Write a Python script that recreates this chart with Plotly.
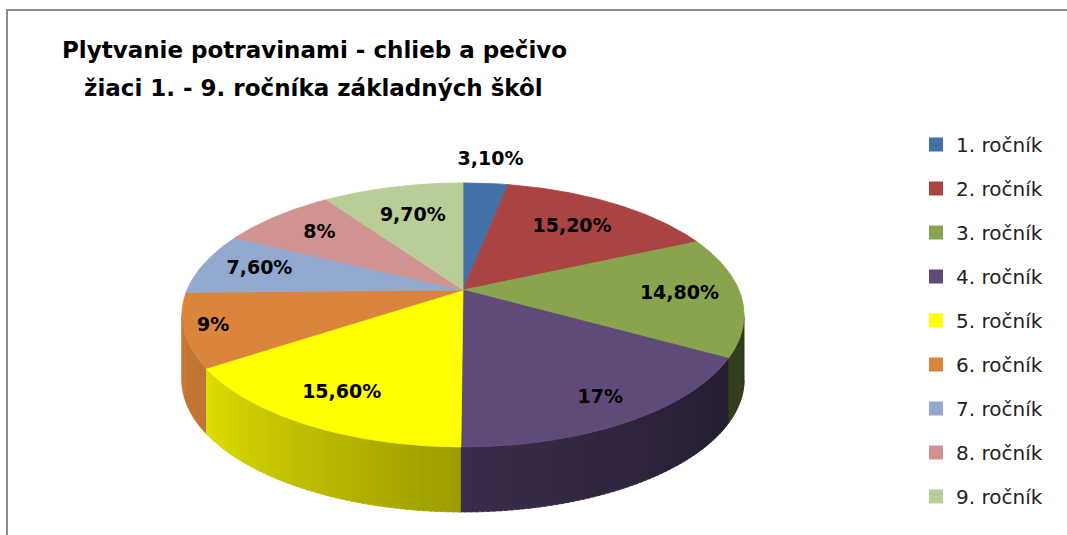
import numpy as np
import plotly.graph_objects as go

# ---------------- data ----------------
categories = ["1. ročník", "2. ročník", "3. ročník", "4. ročník", "5. ročník",
              "6. ročník", "7. ročník", "8. ročník", "9. ročník"]
values = [3.1, 15.2, 14.8, 17.0, 15.6, 9.0, 7.6, 8.0, 9.7]
value_labels = ["3,10%", "15,20%", "14,80%", "17%", "15,60%", "9%", "7,60%", "8%", "9,70%"]
title_lines = ["Plytvanie potravinami - chlieb a pečivo",
               "žiaci 1. - 9. ročníka základných škôl"]

# ---------------- style ----------------
top_colors = ["#4270A8", "#A94442", "#88A44D", "#5F4A79", "#FFFF00",
              "#DB843D", "#93A9D0", "#D19392", "#B9CD96"]
label_radius = [1.27, 0.70, 0.78, 0.85, 0.80, 0.90, 0.78, 0.75, 0.68]

W, H = 1067, 535
CX, CY = 463.0, 290.0      # pie centre (screen units)
A, B, P = 276.0, 127.3, 0.189  # perspective projection of the disc
DEPTH = 65.0

def proj(theta_deg, r=1.0):
    t = np.radians(theta_deg)
    x = r * np.sin(t)
    z = r * np.cos(t)
    d = 1 + P * z
    return CX + A * x / d, CY - B * z / d

def hex_to_rgb(h):
    h = h.lstrip("#")
    return tuple(int(h[i:i + 2], 16) for i in (0, 2, 4))

def shade(hexc, f):
    r, g, b = hex_to_rgb(hexc)
    return "rgb(%d,%d,%d)" % (min(255, r * f), min(255, g * f), min(255, b * f))

def side_factor(theta):
    return float(np.interp(theta, [100, 119, 180, 236, 260], [0.33, 0.39, 0.61, 0.87, 0.92]))

total = float(sum(values))
bounds = np.concatenate([[0], np.cumsum(values)]) / total * 360.0

# silhouette (visible front side) range
theta_l = np.degrees(np.arccos(-P))
theta_r = 360 - theta_l

fig = go.Figure()

# ---- side walls (front half), drawn as thin shaded strips ----
for i, cat in enumerate(categories):
    a0, a1 = max(bounds[i], theta_l), min(bounds[i + 1], theta_r)
    if a1 <= a0:
        continue
    n = max(1, int(np.ceil((a1 - a0) / 1.0)))
    edges = np.linspace(a0, a1, n + 1)
    for k in range(n):
        s0 = edges[k]
        s1 = min(edges[k + 1] + 0.5, theta_r) if k < n - 1 or i < len(categories) - 1 else edges[k + 1]
        ts = np.linspace(s0, s1, 4)
        xt, yt = proj(ts)
        xs = np.concatenate([xt, xt[::-1]])
        ys = np.concatenate([yt, (yt + DEPTH)[::-1]])
        col = shade(top_colors[i], side_factor((s0 + s1) / 2))
        fig.add_trace(go.Scatter(
            x=xs, y=ys, mode="lines", fill="toself", fillcolor=col,
            line=dict(color=col, width=0.6), hoverinfo="skip", showlegend=False))

# ---- top faces ----
for i, cat in enumerate(categories):
    ts = np.linspace(bounds[i], bounds[i + 1], max(3, int((bounds[i + 1] - bounds[i]) * 2)))
    xr, yr = proj(ts)
    xs = np.concatenate([[CX], xr, [CX]])
    ys = np.concatenate([[CY], yr, [CY]])
    fig.add_trace(go.Scatter(
        x=xs, y=ys, mode="lines", fill="toself", fillcolor=top_colors[i],
        line=dict(color=top_colors[i], width=0.8),
        name=cat, hoveron="fills", text=f"{cat}: {value_labels[i]}", hoverinfo="text",
        showlegend=False))

# ---- data labels ----
mids = (bounds[:-1] + bounds[1:]) / 2
lx, ly = [], []
for i in range(len(values)):
    x, y = proj(mids[i], label_radius[i])
    lx.append(x)
    ly.append(y)
fig.add_trace(go.Scatter(
    x=lx, y=ly, mode="text", text=value_labels,
    textfont=dict(family="DejaVu Sans", size=19, color="black", weight="bold"),
    hoverinfo="skip", showlegend=False))

# ---- legend entries ----
for i, cat in enumerate(categories):
    fig.add_trace(go.Scatter(
        x=[None], y=[None], mode="markers", name=cat, legendgroup=cat,
        marker=dict(symbol="square", size=14, color=top_colors[i]),
        showlegend=True))

fig.add_annotation(x=314, y=50, xref="x", yref="y", text=title_lines[0], showarrow=False,
                   font=dict(family="DejaVu Sans", size=23, color="black", weight="bold"))
fig.add_annotation(x=313, y=88, xref="x", yref="y", text=title_lines[1], showarrow=False,
                   font=dict(family="DejaVu Sans", size=23, color="black", weight="bold"))

fig.add_shape(type="rect", xref="x", yref="y", x0=7, y0=10, x1=W + 20, y1=H + 20,
              line=dict(color="#8C8C8C", width=2), fillcolor="rgba(0,0,0,0)", layer="above")

fig.update_layout(
    width=W, height=H,
    margin=dict(l=0, r=0, t=0, b=0),
    paper_bgcolor="white", plot_bgcolor="white",
    xaxis=dict(range=[0, W], visible=False, fixedrange=True),
    yaxis=dict(range=[H, 0], visible=False, fixedrange=True),
    showlegend=True,
    legend=dict(x=916 / W, y=1 - 125 / H, xanchor="left", yanchor="top",
                font=dict(family="DejaVu Sans", size=20, color="#222222"),
                tracegroupgap=15, bgcolor="rgba(0,0,0,0)", traceorder="grouped"),
)

fig.write_html("out.html", config={"displayModeBar": False},
               post_script="document.body.style.margin='0';")
